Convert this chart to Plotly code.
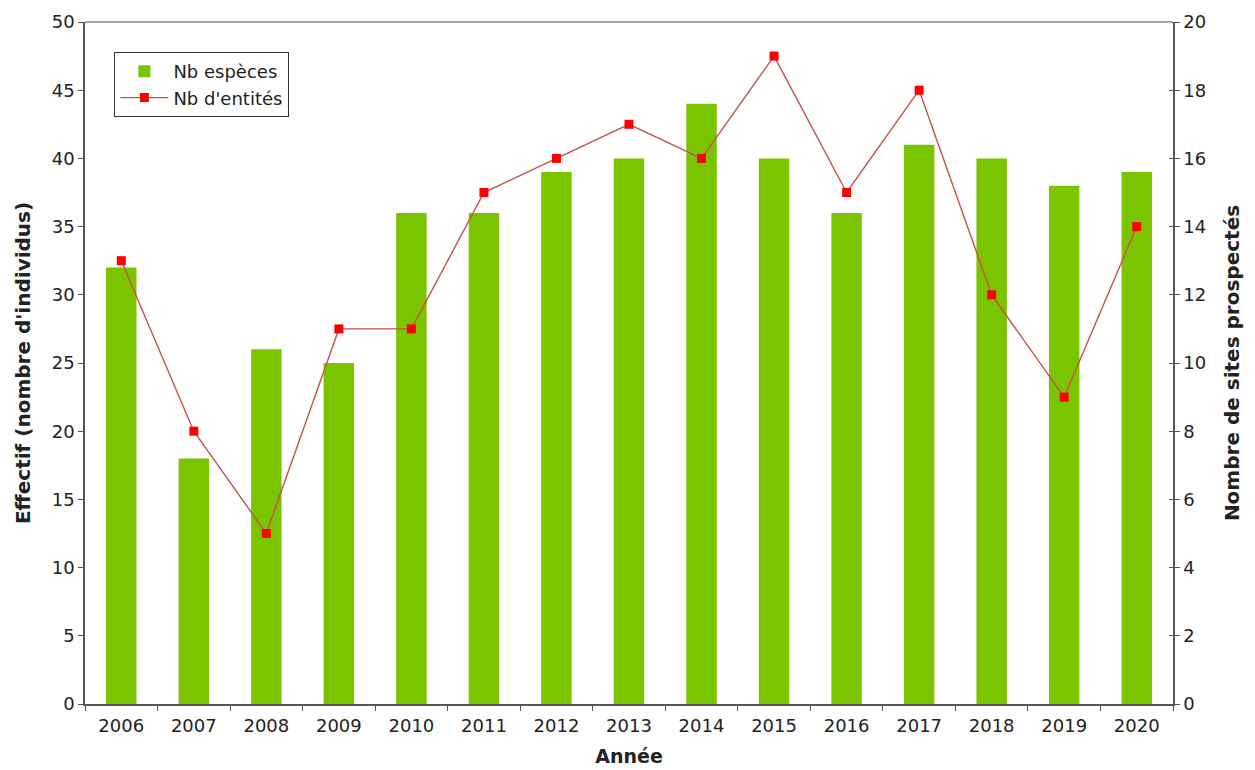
import plotly.graph_objects as go

years = ["2006", "2007", "2008", "2009", "2010", "2011", "2012", "2013",
         "2014", "2015", "2016", "2017", "2018", "2019", "2020"]
nb_especes = [32, 18, 26, 25, 36, 36, 39, 40, 44, 40, 36, 41, 40, 38, 39]
nb_entites = [13, 8, 5, 11, 11, 15, 16, 17, 16, 19, 15, 18, 12, 9, 14]

left_ticks = [0, 5, 10, 15, 20, 25, 30, 35, 40, 45, 50]
right_ticks = [0, 2, 4, 6, 8, 10, 12, 14, 16, 18, 20]

font_family = "DejaVu Sans, Verdana, sans-serif"
txt_color = "#222222"
axis_color = "#555555"

fig = go.Figure()
fig.add_trace(go.Bar(
    x=years, y=nb_especes, name="Nb espèces",
    marker=dict(color="#7bc400", line=dict(width=0)),
    width=0.42, yaxis="y",
))
fig.add_trace(go.Scatter(
    x=years, y=nb_entites, name="Nb d'entités", yaxis="y2",
    mode="lines+markers",
    line=dict(color="#c8504d", width=1.4),
    marker=dict(symbol="square", size=9, color="#ff0000"),
))
# invisible helper trace for inside ticks on the right axis (cross-shaped ticks)
fig.add_trace(go.Scatter(
    x=years, y=nb_entites, yaxis="y3", mode="markers",
    marker=dict(opacity=0), showlegend=False, hoverinfo="skip",
))

axis_common = dict(
    showline=True, linecolor=axis_color, linewidth=1.5,
    ticks="outside", ticklen=5, tickcolor=axis_color, tickwidth=1,
    showgrid=False, zeroline=False, automargin=False,
    tickfont=dict(family=font_family, size=18, color=txt_color),
)
title_font = dict(family=font_family, size=20, color=txt_color)

fig.update_layout(
    width=1255, height=770,
    margin=dict(l=77, r=90, t=14, b=74),
    paper_bgcolor="white", plot_bgcolor="white",
    font=dict(family=font_family, color=txt_color),
    xaxis=dict(
        **axis_common, type="category", tickson="boundaries",
        range=[-0.5, len(years) - 0.5], ticklabelstandoff=5,
        title=dict(text="<b>Année</b>", font=dict(family=font_family, size=19, color=txt_color),
                   standoff=14),
    ),
    yaxis=dict(
        **axis_common, range=[0, 50], tickvals=left_ticks,
        title=dict(text="<b>Effectif (nombre d'individus)</b>", font=title_font, standoff=16),
    ),
    yaxis2=dict(
        **axis_common, range=[0, 20], tickvals=right_ticks,
        overlaying="y", side="right",
        title=dict(text="<b>Nombre de sites prospectés</b>", font=title_font, standoff=20),
    ),
    yaxis3=dict(
        range=[0, 20], tickvals=right_ticks, overlaying="y", side="right",
        ticks="inside", ticklen=4, tickcolor=axis_color, showticklabels=False,
        showgrid=False, zeroline=False, showline=False, automargin=False,
    ),
    legend=dict(
        x=0.027, y=0.956, xanchor="left", yanchor="top",
        bgcolor="white", bordercolor="#333333", borderwidth=1,
        font=dict(family=font_family, size=18, color=txt_color),
        tracegroupgap=0, itemwidth=48,
    ),
    shapes=[dict(type="line", xref="paper", yref="paper", x0=0, x1=1, y0=1, y1=1,
                 line=dict(color="#888888", width=1.5))],
)

fig.write_html("out.html")
